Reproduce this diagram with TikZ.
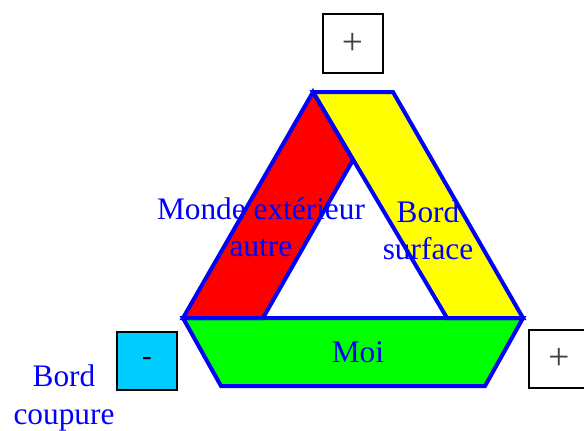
\documentclass[tikz,border=0pt]{standalone}
\usepackage{fontspec}
\setmainfont{Liberation Serif}
\definecolor{txtblue}{RGB}{0,0,255}
\definecolor{bandred}{RGB}{255,0,0}
\definecolor{bandyellow}{RGB}{255,255,0}
\definecolor{bandgreen}{RGB}{0,255,0}
\definecolor{boxcyan}{RGB}{0,204,255}
\begin{document}
\begin{tikzpicture}[x=0.75pt,y=-0.75pt,
  band/.style={draw=txtblue,line width=3pt,line join=miter,miter limit=3},
  lbl/.style={text=txtblue,font=\fontsize{23.5}{28}\selectfont,align=center,inner sep=0pt},
  signbox/.style={draw=black,line width=1.5pt,minimum width=45pt,minimum height=44pt,inner sep=0pt,font=\fontsize{22}{26}\selectfont},
  plussign/.style={text=black!75,font=\fontsize{28}{30}\selectfont}]
\useasboundingbox (0,0) rectangle (584,430);
% bands
\path[band,fill=bandgreen] (183,318) -- (523,318) -- (485,386) -- (221,386) -- cycle;
\path[band,fill=bandyellow] (313,92) -- (393,92) -- (523,318) -- (447,318) -- cycle;
\path[band,fill=bandred] (313,92) -- (183,318) -- (263,318) -- (353,160) -- cycle;
% labels
\node[lbl] (monde) at (261,227) {Monde extérieur\\autre};
\node[lbl] (surface) at (428,230) {Bord\\surface};
\node[lbl,anchor=base] (moi) at (358,362) {Moi};
\node[lbl] (coupure) at (64,398) {Bord\\coupure};
% boxes
\node[signbox,plussign] (plustop) at (352.5,43.5) {+};
\node[signbox,fill=boxcyan] (minus) at (147,361) {-};
\node[signbox,plussign] (plusright) at (559,359) {+};
\end{tikzpicture}
\end{document}
